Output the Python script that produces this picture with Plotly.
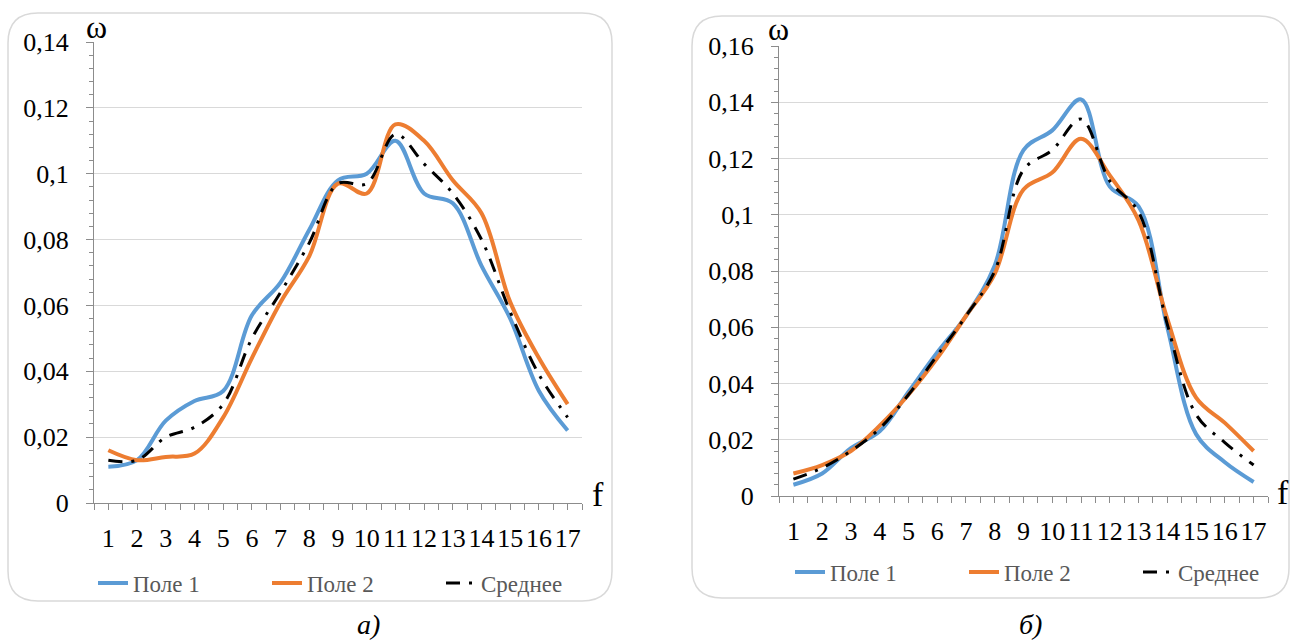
import plotly.graph_objects as go

# ---------------- data ----------------
categories = list(range(1, 18))
x_tick_labels = [str(c) for c in categories]

# chart а)
field1_a = [0.011, 0.013, 0.025, 0.031, 0.034, 0.057, 0.067, 0.083, 0.098, 0.100,
            0.110, 0.094, 0.091, 0.072, 0.056, 0.034, 0.022]
field2_a = [0.016, 0.013, 0.014, 0.015, 0.026, 0.044, 0.061, 0.075, 0.097, 0.094,
            0.115, 0.110, 0.098, 0.088, 0.061, 0.044, 0.030]
mean_a = [0.013, 0.013, 0.020, 0.023, 0.030, 0.050, 0.064, 0.079, 0.097, 0.097,
          0.112, 0.103, 0.094, 0.080, 0.058, 0.039, 0.026]
y_ticks_a = [0, 0.02, 0.04, 0.06, 0.08, 0.10, 0.12, 0.14]
y_tick_labels_a = ["0", "0,02", "0,04", "0,06", "0,08", "0,1", "0,12", "0,14"]

# chart б)
field1_b = [0.004, 0.008, 0.017, 0.023, 0.037, 0.051, 0.064, 0.082, 0.123, 0.130,
            0.141, 0.110, 0.103, 0.060, 0.022, 0.012, 0.005]
field2_b = [0.008, 0.011, 0.016, 0.025, 0.036, 0.049, 0.064, 0.079, 0.109, 0.115,
            0.127, 0.114, 0.098, 0.063, 0.035, 0.026, 0.016]
mean_b = [0.006, 0.010, 0.016, 0.024, 0.036, 0.050, 0.064, 0.080, 0.116, 0.123,
          0.134, 0.112, 0.101, 0.061, 0.029, 0.019, 0.011]
y_ticks_b = [0, 0.02, 0.04, 0.06, 0.08, 0.10, 0.12, 0.14, 0.16]
y_tick_labels_b = ["0", "0,02", "0,04", "0,06", "0,08", "0,1", "0,12", "0,14", "0,16"]

series_names = ["Поле 1", "Поле 2", "Среднее"]

# ---------------- styling ----------------
W, H = 1290, 642
BLUE = "#5B9BD5"
ORANGE = "#ED7D31"
AXIS = "#8C8C8C"
GRID = "#D9D9D9"
SERIF = "Liberation Serif"
DASH = "14px,9px,3px,9px"


def px(x):
    return x / W


def py(y):
    return 1 - y / H


fig = go.Figure()

for (xa, ya, lg, s1, s2, sm) in [("x", "y", "legend", field1_a, field2_a, mean_a),
                                  ("x2", "y2", "legend2", field1_b, field2_b, mean_b)]:
    fig.add_trace(go.Scatter(x=categories, y=s1, name=series_names[0], mode="lines",
                             line=dict(color=BLUE, width=4, shape="spline", smoothing=1),
                             xaxis=xa, yaxis=ya, legend=lg))
    fig.add_trace(go.Scatter(x=categories, y=s2, name=series_names[1], mode="lines",
                             line=dict(color=ORANGE, width=4, shape="spline", smoothing=1),
                             xaxis=xa, yaxis=ya, legend=lg))
    fig.add_trace(go.Scatter(x=categories, y=sm, name=series_names[2], mode="lines",
                             line=dict(color="black", width=3, shape="spline", smoothing=1, dash=DASH),
                             xaxis=xa, yaxis=ya, legend=lg))


def xaxis_cfg(x0, x1):
    return dict(
        domain=[px(x0), px(x1)], range=[0.5, 17.5], tickmode="array",
        tickvals=categories, ticktext=x_tick_labels, showgrid=False, zeroline=False,
        showline=True, linecolor=AXIS, linewidth=1.3, tickangle=0, automargin=False,
        ticks="outside", ticklen=6, tickwidth=1.2, tickcolor=AXIS,
        minor=dict(tickmode="array", tickvals=[c - 0.5 for c in categories] + [17.5],
                   ticks="outside", ticklen=6, tickwidth=1.2, tickcolor=AXIS),
        tickfont=dict(family=SERIF, size=26, color="black"),
        ticklabelstandoff=6, fixedrange=True,
    )


def yaxis_cfg(y0, y1, top, vals, labels, anchor):
    return dict(
        domain=[py(y1), py(y0)], range=[0, top], tickmode="array",
        tickvals=vals, ticktext=labels, showgrid=True, gridcolor=GRID, gridwidth=1.3,
        zeroline=False, showline=True, linecolor=AXIS, linewidth=1.3, automargin=False,
        ticks="outside", ticklen=7, tickwidth=1.2, tickcolor=AXIS,
        minor=dict(dtick=0.004, tick0=0, ticks="outside", ticklen=4, tickwidth=1.2,
                   tickcolor=AXIS, showgrid=False),
        tickfont=dict(family=SERIF, size=26, color="black"),
        ticklabelstandoff=12, anchor=anchor, fixedrange=True,
    )


def yaxis_inner(top, vals, over, anchor):
    # second, label-less axis on top of the first: its inside ticks make the ticks cross the axis line
    return dict(
        overlaying=over, anchor=anchor, side="left", range=[0, top], tickmode="array",
        tickvals=vals, showticklabels=False, showgrid=False, zeroline=False, showline=False,
        ticks="inside", ticklen=6, tickwidth=1.2, tickcolor=AXIS, automargin=False,
        minor=dict(dtick=0.004, tick0=0, ticks="inside", ticklen=6, tickwidth=1.2,
                   tickcolor=AXIS, showgrid=False),
        fixedrange=True,
    )


def rounded_rect(x0, y0, x1, y1, r):
    rx, ry = r / W, r / H
    X0, X1 = px(x0), px(x1)
    Y0, Y1 = py(y0), py(y1)  # Y0 top, Y1 bottom
    return (f"M {X0 + rx},{Y0} L {X1 - rx},{Y0} Q {X1},{Y0} {X1},{Y0 - ry} "
            f"L {X1},{Y1 + ry} Q {X1},{Y1} {X1 - rx},{Y1} "
            f"L {X0 + rx},{Y1} Q {X0},{Y1} {X0},{Y1 + ry} "
            f"L {X0},{Y0 - ry} Q {X0},{Y0} {X0 + rx},{Y0} Z")


legend_common = dict(orientation="h", xanchor="left", yanchor="middle",
                     bgcolor="rgba(0,0,0,0)", borderwidth=0,
                     entrywidth=129, entrywidthmode="pixels",
                     font=dict(family=SERIF, size=23, color="#595959"))


def label(text, x, y, size):
    return dict(text=text, x=px(x), y=py(y), xref="paper", yref="paper", showarrow=False,
                xanchor="center", yanchor="middle",
                font=dict(family=SERIF, size=size, color="black"))


fig.update_layout(
    width=W, height=H, margin=dict(l=0, r=0, t=0, b=0, autoexpand=False),
    paper_bgcolor="white", plot_bgcolor="white",
    xaxis=xaxis_cfg(94, 582),
    yaxis=yaxis_cfg(42, 503, 0.14, y_ticks_a, y_tick_labels_a, "x"),
    xaxis2=xaxis_cfg(779, 1268) | dict(anchor="y2"),
    yaxis2=yaxis_cfg(46, 496, 0.16, y_ticks_b, y_tick_labels_b, "x2"),
    yaxis3=yaxis_inner(0.14, y_ticks_a, "y", "x"),
    yaxis4=yaxis_inner(0.16, y_ticks_b, "y2", "x2"),
    legend=legend_common | dict(x=px(93), y=py(583)),
    legend2=legend_common | dict(x=px(790), y=py(572)),
    shapes=[
        dict(type="path", xref="paper", yref="paper", path=rounded_rect(8, 13, 612, 601, 30),
             line=dict(color=GRID, width=1.5), fillcolor="rgba(0,0,0,0)", layer="below"),
        dict(type="path", xref="paper", yref="paper", path=rounded_rect(692, 16, 1289, 598, 30),
             line=dict(color=GRID, width=1.5), fillcolor="rgba(0,0,0,0)", layer="below"),
    ],
    annotations=[
        label("ω", 96, 27, 32),
        label("ω", 778, 29, 32),
        label("f", 598, 494, 34),
        label("f", 1283, 492, 34),
        label("<i>а)</i>", 368, 624, 28),
        label("<i>б)</i>", 1030, 624, 28),
    ],
)

fig.write_html("out.html", config=dict(displayModeBar=False))
